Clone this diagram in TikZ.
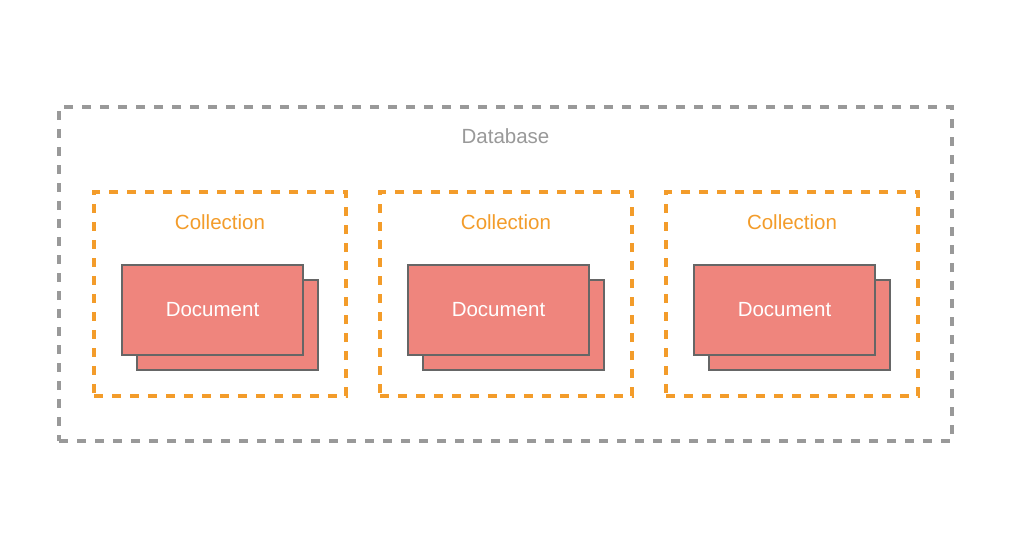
\documentclass[tikz,border=0pt]{standalone}
\usepackage{fontspec}
\setmainfont{Liberation Sans}
\usepackage{xcolor}
\usepackage{tikz}
\usetikzlibrary{positioning}
\definecolor{dbgrey}{RGB}{153,153,153}
\definecolor{collorange}{RGB}{243,156,42}
\definecolor{docred}{RGB}{239,133,125}
\definecolor{docedge}{RGB}{102,102,102}
\tikzset{
  dbbox/.style  ={draw=dbgrey, line width=4pt, dash pattern=on 9pt off 9pt,
                  minimum width=893pt, minimum height=334pt, inner sep=0pt},
  collbox/.style={draw=collorange, line width=3.5pt, dash pattern=on 9pt off 9pt,
                  minimum width=252pt, minimum height=204pt, inner sep=0pt},
  docbox/.style ={draw=docedge, fill=docred, line width=2pt,
                  minimum width=181pt, minimum height=90pt, inner sep=0pt},
  lbl/.style    ={font=\fontsize{20.5}{24}\selectfont},
}

\begin{document}
\begin{tikzpicture}[x=1pt,y=-1pt]
\useasboundingbox[fill=white] (0,0) rectangle (1024,542);

% database
\node[dbbox] (db) at (505.5,274) {};
\node[lbl,text=dbgrey] (dblabel) at (505.5,136) {Database};

% collections
\foreach \i/\cx in {1/220,2/506,3/792}{
  \node[collbox] (coll\i) at (\cx,294) {};
  \node[lbl,text=collorange] (colllabel\i) at (\cx,222) {Collection};
  \node[docbox] (docback\i) at (\cx+7.5,325) {};
  \node[docbox] (doc\i) at (\cx-7.5,310) {};
  \node[lbl,text=white] (doclabel\i) at (doc\i) {Document};
}
\end{tikzpicture}
\end{document}
